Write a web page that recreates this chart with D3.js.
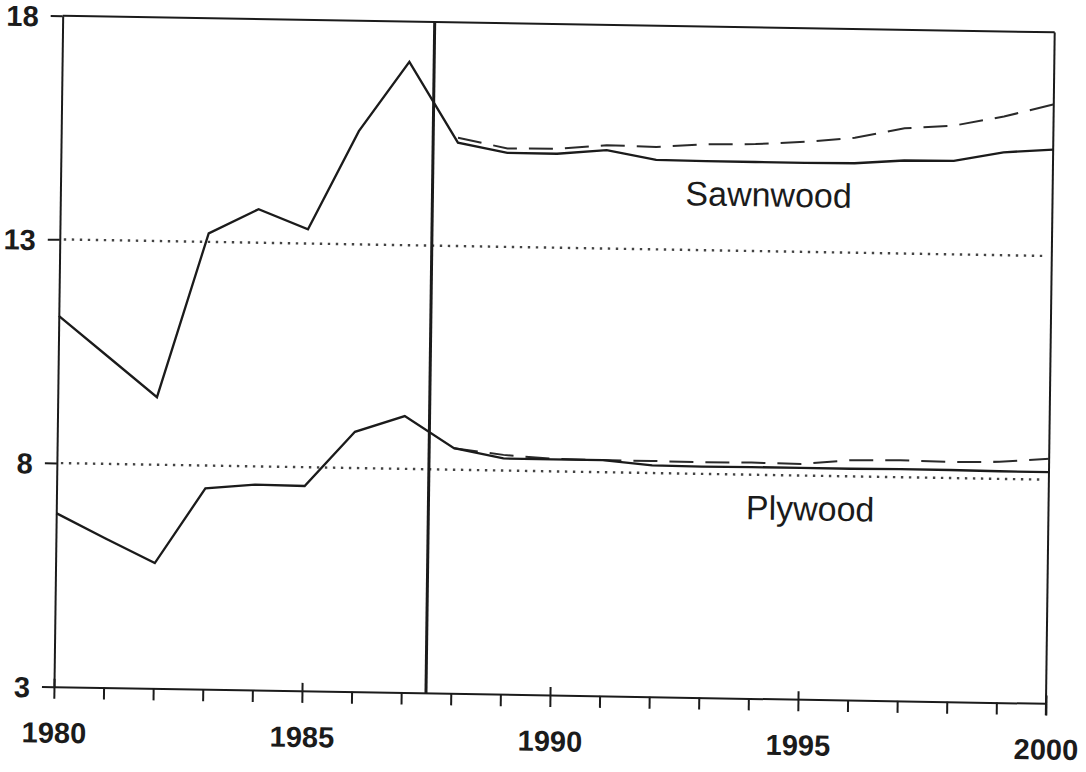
<!DOCTYPE html>
<html>
<head>
<meta charset="utf-8">
<script src="https://cdn.jsdelivr.net/npm/d3@7"></script>
<style>
  body { margin: 0; background: #fff; }
  svg { display: block; }
</style>
</head>
<body>
<div id="chart"></div>
<script>
// ---- data ----
const years = [1980, 1981, 1982, 1983, 1984, 1985, 1986, 1987, 1988, 1989, 1990,
               1991, 1992, 1993, 1994, 1995, 1996, 1997, 1998, 1999, 2000];
const altYears = [1988, 1989, 1990, 1991, 1992, 1993, 1994, 1995, 1996, 1997, 1998, 1999, 2000];

// solid lines: history + base projection
const sawnwood = [11.29, 10.40, 9.51, 13.19, 13.75, 13.32, 15.53, 17.10, 15.31, 15.10, 15.10,
                  15.20, 15.00, 14.99, 14.99, 14.99, 15.00, 15.08, 15.09, 15.30, 15.38];
const plywood = [6.88, 6.33, 5.80, 7.49, 7.59, 7.58, 8.81, 9.18, 8.48, 8.27, 8.27,
                 8.27, 8.17, 8.16, 8.17, 8.17, 8.17, 8.18, 8.18, 8.17, 8.17];

// dashed lines: alternative projection
const sawnwoodAlt = [15.42, 15.20, 15.21, 15.31, 15.29, 15.37, 15.39, 15.46, 15.57, 15.80, 15.88, 16.10, 16.39];
const plywoodAlt = [8.48, 8.35, 8.28, 8.27, 8.27, 8.26, 8.27, 8.26, 8.36, 8.38, 8.36, 8.38, 8.47];

const refLevels = [13, 8];          // dotted lines
const yTicks = [3, 8, 13, 18];
const xLabelTicks = [1980, 1985, 1990, 1995, 2000];
const forecastStart = 1987.5;       // heavy vertical line
const seriesLabels = [
  { text: "Sawnwood", year: 1992.6, value: 14.0 },
  { text: "Plywood", year: 1993.9, value: 7.0 }
];

// ---- layout ----
const width = 1086, height = 772;
const W = 992, H = 671;
const ink = "#1b1b1b";
const tickFont = "'Liberation Sans Narrow', 'Arial Narrow', 'Liberation Sans', sans-serif";

const x = d3.scaleLinear().domain([1980, 2000]).range([0, W]);
const y = d3.scaleLinear().domain([3, 18]).range([H, 0]);

const svg = d3.select("#chart").append("svg")
  .attr("width", width)
  .attr("height", height)
  .style("background", "#fff");

// the scan is a little rotated/skewed, so the whole plot is too
const g = svg.append("g")
  .attr("transform", "matrix(1,0.0168,-0.013,1,62.7,15.7)");

// frame: top and right border
g.append("line")
  .attr("x1", x(1980)).attr("x2", x(2000))
  .attr("y1", y(18)).attr("y2", y(18))
  .attr("stroke", ink).attr("stroke-width", 2);
g.append("line")
  .attr("x1", x(2000)).attr("x2", x(2000))
  .attr("y1", y(18)).attr("y2", y(3) + 12)
  .attr("stroke", ink).attr("stroke-width", 2);

// dotted reference lines
g.append("g")
  .selectAll("line")
  .data(refLevels)
  .join("line")
  .attr("x1", x(1980) + 4).attr("x2", x(2000) - 9)
  .attr("y1", d => y(d)).attr("y2", d => y(d))
  .attr("stroke", "#444")
  .attr("stroke-width", 2.4)
  .attr("stroke-dasharray", "2.4 5.6");

// left axis
const yAxis = g.append("g")
  .call(d3.axisLeft(y).tickValues(yTicks).tickSize(12).tickSizeOuter(0).tickPadding(12));
yAxis.select(".domain").attr("stroke", ink).attr("stroke-width", 2);
yAxis.selectAll(".tick line").attr("stroke", ink).attr("stroke-width", 2);
yAxis.selectAll("text")
  .attr("dy", "0.36em")
  .attr("fill", ink)
  .style("font-family", tickFont)
  .style("font-size", "29px")
  .style("font-weight", "bold");

// bottom axis: minor ticks every year
const xAxis = g.append("g")
  .attr("transform", `translate(0,${H})`)
  .call(d3.axisBottom(x).tickValues(years).tickSize(12).tickSizeOuter(0).tickFormat(""));
xAxis.select(".domain").attr("stroke", ink).attr("stroke-width", 2);
xAxis.selectAll(".tick line").attr("stroke", ink).attr("stroke-width", 2);

// major ticks poke up a bit and carry the labels
const xMajor = g.append("g")
  .attr("transform", `translate(0,${H})`)
  .call(d3.axisBottom(x).tickValues(xLabelTicks).tickSize(-8).tickSizeOuter(0)
    .tickPadding(35.5).tickFormat(d3.format("d")));
xMajor.select(".domain").remove();
xMajor.selectAll(".tick line").attr("stroke", ink).attr("stroke-width", 2);
xMajor.selectAll("text")
  .attr("fill", ink)
  .style("font-family", tickFont)
  .style("font-size", "29px")
  .style("font-weight", "bold");

// forecast divider
g.append("line")
  .attr("x1", x(forecastStart)).attr("x2", x(forecastStart))
  .attr("y1", y(18)).attr("y2", y(3))
  .attr("stroke", ink).attr("stroke-width", 3);

// series lines
const line = d3.line()
  .x(d => x(d[0]))
  .y(d => y(d[1]));

const solidSeries = [sawnwood, plywood].map(vals => years.map((yr, i) => [yr, vals[i]]));
const dashedSeries = [sawnwoodAlt, plywoodAlt].map(vals => altYears.map((yr, i) => [yr, vals[i]]));

g.append("g")
  .selectAll("path")
  .data(dashedSeries)
  .join("path")
  .attr("d", line)
  .attr("fill", "none")
  .attr("stroke", "#2a2a2a")
  .attr("stroke-width", 2)
  .attr("stroke-dasharray", "24 12");

g.append("g")
  .selectAll("path")
  .data(solidSeries)
  .join("path")
  .attr("d", line)
  .attr("fill", "none")
  .attr("stroke", ink)
  .attr("stroke-width", 2.3)
  .attr("stroke-linejoin", "miter");

// series names
g.append("g")
  .selectAll("text")
  .data(seriesLabels)
  .join("text")
  .attr("x", d => x(d.year))
  .attr("y", d => y(d.value))
  .attr("fill", ink)
  .style("font-family", "'Liberation Sans', Arial, sans-serif")
  .style("font-size", "34px")
  .text(d => d.text);
</script>
</body>
</html>
